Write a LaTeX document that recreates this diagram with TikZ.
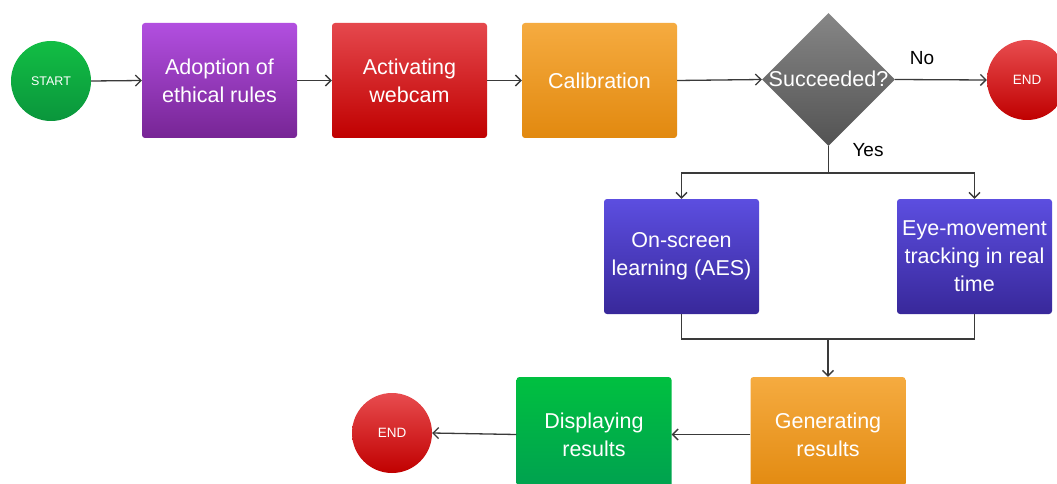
\documentclass[tikz,border=0pt]{standalone}
\usepackage{fontspec}
\setmainfont{Liberation Sans}
\usetikzlibrary{shapes.geometric,arrows.meta}
\definecolor{linec}{HTML}{3A3A3A}
\tikzset{
  boxbase/.style={rectangle, rounded corners=3pt, minimum width=155pt, minimum height=115pt,
    inner sep=0pt, text=white, align=center, font=\fontsize{21.5}{28}\selectfont},
  purplebox/.style={boxbase, top color=purpletop, bottom color=purplebot},
  redbox/.style={boxbase, top color=redtop, bottom color=redbot},
  orangebox/.style={boxbase, top color=orangetop, bottom color=orangebot},
  bluebox/.style={boxbase, top color=bluetop, bottom color=bluebot},
  greenbox/.style={boxbase, top color=greentop, bottom color=greenbot},
  startnode/.style={circle, minimum size=80pt, inner sep=0pt, top color=starttop, bottom color=startbot,
    text=white, font=\fontsize{12.5}{14}\selectfont},
  endnode/.style={circle, minimum size=80pt, inner sep=0pt, top color=endtop, bottom color=endbot,
    text=white, font=\fontsize{13.5}{15}\selectfont},
  decision/.style={diamond, minimum width=133pt, minimum height=133pt, inner sep=0pt, aspect=1,
    top color=graytop, bottom color=graybot},
  conn/.style={draw=linec, line width=1.3pt, -{Straight Barb[length=5.5pt,width=11pt,line width=1.3pt]}},
  plain/.style={draw=linec, line width=1.3pt},
  lbl/.style={font=\fontsize{19}{22}\selectfont, text=black}
}
\definecolor{purpletop}{HTML}{B24FE0}
\definecolor{purplebot}{HTML}{772595}
\definecolor{redtop}{HTML}{E5484D}
\definecolor{redbot}{HTML}{C00000}
\definecolor{orangetop}{HTML}{F5AB40}
\definecolor{orangebot}{HTML}{E2890F}
\definecolor{bluetop}{HTML}{5C4EE0}
\definecolor{bluebot}{HTML}{38289A}
\definecolor{greentop}{HTML}{00C040}
\definecolor{greenbot}{HTML}{00A050}
\definecolor{starttop}{HTML}{12BE44}
\definecolor{startbot}{HTML}{0A963C}
\definecolor{endtop}{HTML}{E84C4F}
\definecolor{endbot}{HTML}{C00000}
\definecolor{graytop}{HTML}{868686}
\definecolor{graybot}{HTML}{535353}
\begin{document}
\begin{tikzpicture}[x=1pt,y=-1pt]
\useasboundingbox[fill=white] (0,0) rectangle (1057,484);
% top row
\node[startnode] (start) at (51,81) {START};
\node[purplebox] (adopt) at (219.5,80.5) {Adoption of\\ethical rules};
\node[redbox] (webcam) at (409.5,80.5) {Activating\\webcam};
\node[orangebox] (calib) at (599.5,80.5) {Calibration};
\node[decision] (dia) at (828.5,79.5) {};
\node[text=white, font=\fontsize{21.5}{25}\selectfont, inner sep=0pt] (diatext) at ([yshift=1pt]dia.center) {Succeeded?};
\node[endnode] (end1) at (1027,80) {END};
% middle row
\node[bluebox] (onscreen) at (681.5,256.5) {On-screen\\learning (AES)};
\node[bluebox] (eye) at (974.5,256.5) {Eye-movement\\tracking in real\\time};
% bottom row
\node[orangebox] (gen) at (828,434.5) {Generating\\results};
\node[greenbox] (disp) at (594,434.5) {Displaying\\results};
\node[endnode] (end2) at (392,433) {END};
% labels
\node[lbl] (nolbl) at (922,58) {No};
\node[lbl] (yeslbl) at (868,150) {Yes};
% junction coordinates
\coordinate (split) at (828.5,173);
\coordinate (merge) at (828,339);
% connectors
\draw[conn] (start.east) -- (adopt.west);
\draw[conn] (adopt.east) -- (webcam.west);
\draw[conn] (webcam.east) -- (calib.west);
\draw[conn] (calib.east) -- (dia.west);
\draw[conn] (dia.east) -- (end1.west);
\draw[plain] (dia.south) -- (split);
\draw[conn] (split) -| (onscreen.north);
\draw[conn] (split) -| (eye.north);
\draw[plain] (onscreen.south) |- (merge);
\draw[plain] (eye.south) |- (merge);
\draw[conn] (merge) -- (gen.north);
\draw[conn] (gen.west) -- (disp.east);
\draw[conn] (disp.west) -- (end2.east);
\end{tikzpicture}
\end{document}
